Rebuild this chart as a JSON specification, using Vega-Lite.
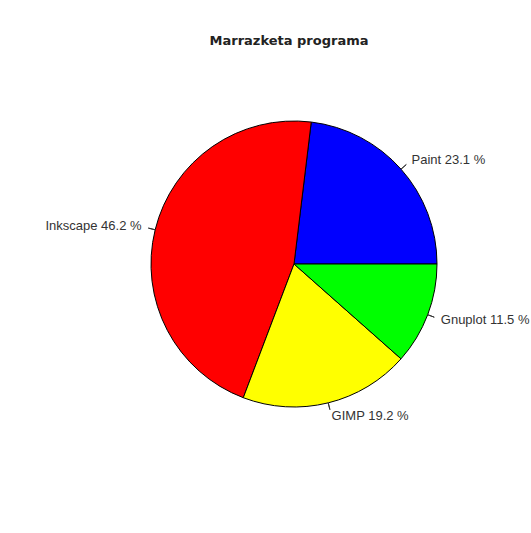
{
  "$schema": "https://vega.github.io/schema/vega-lite/v6.json",
  "width": 300,
  "height": 300,
  "autosize": "none",
  "padding": {"left": 144, "top": 114, "right": 87, "bottom": 119},
  "background": "white",
  "view": {"stroke": null},
  "title": {
    "text": "Marrazketa programa",
    "font": "DejaVu Sans",
    "fontSize": 13,
    "fontWeight": "bold",
    "color": "#222222",
    "anchor": "middle",
    "frame": "group",
    "offset": 66,
    "dx": -5
  },
  "data": {
    "values": [
      {"program": "Paint", "count": 6, "i": 1, "label": "Paint 23.1 %"},
      {"program": "Inkscape", "count": 12, "i": 2, "label": "Inkscape 46.2 %"},
      {"program": "GIMP", "count": 5, "i": 3, "label": "GIMP 19.2 %"},
      {"program": "Gnuplot", "count": 3, "i": 4, "label": "Gnuplot 11.5 %"}
    ]
  },
  "encoding": {
    "theta": {"field": "count", "type": "quantitative", "stack": true, "scale": {"range": [1.5707963, 7.8539816]}},
    "order": {"field": "i", "type": "quantitative", "sort": "descending"}
  },
  "layer": [
    {
      "mark": {"type": "arc", "radius": 143, "stroke": "black", "strokeWidth": 1},
      "encoding": {
        "color": {
          "field": "program",
          "type": "nominal",
          "scale": {"domain": ["Paint", "Inkscape", "GIMP", "Gnuplot"], "range": ["#0000FF", "#FF0000", "#FFFF00", "#00FF00"]},
          "legend": null
        }
      }
    },
    {
      "mark": {"type": "arc", "radius": 150, "radius2": 143, "padAngle": 3, "filled": false, "stroke": "#333333", "strokeWidth": 1}
    },
    {
      "mark": {"type": "text", "radius": 157, "align": "left", "baseline": "middle", "font": "Liberation Sans", "fontSize": 13, "fill": "#333333"},
      "encoding": {"text": {"condition": {"test": "datum.program !== 'Inkscape'", "field": "label"}, "value": ""}}
    },
    {
      "mark": {"type": "text", "radius": 157, "align": "right", "baseline": "middle", "font": "Liberation Sans", "fontSize": 13, "fill": "#333333"},
      "encoding": {"text": {"condition": {"test": "datum.program === 'Inkscape'", "field": "label"}, "value": ""}}
    }
  ]
}
